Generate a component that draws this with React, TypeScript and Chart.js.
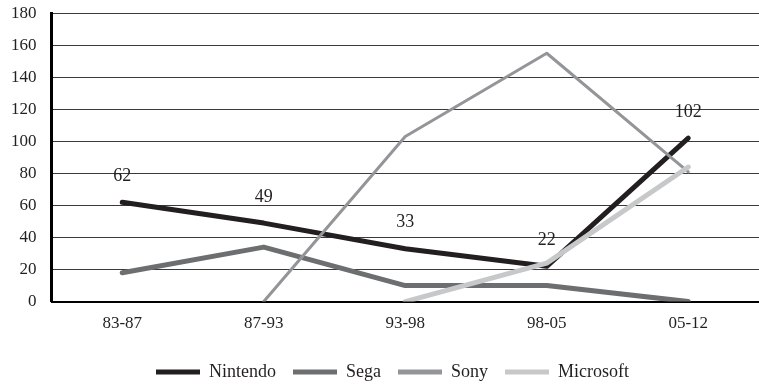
import React, { useEffect, useRef } from "react";
import { Chart, registerables } from "chart.js";

Chart.register(...registerables);

const categories = ["83-87", "87-93", "93-98", "98-05", "05-12"];
const nintendo = [62, 49, 33, 22, 102];
const sega = [18, 34, 10, 10, 0];
const sony = [null, 0, 103, 155, 81];
const microsoft = [null, null, 0, 24, 84];
const yTicks = [0, 20, 40, 60, 80, 100, 120, 140, 160, 180];

const FONT = "'Liberation Serif', 'Times New Roman', serif";

const labelPlugin = {
  id: "nintendoLabels",
  afterLayout(chart: any) {
    if (chart.legend) chart.legend.left = chart.legend.left + 30;
  },
  afterDatasetsDraw(chart: any) {
    const ctx = chart.ctx;
    const meta = chart.getDatasetMeta(0);
    ctx.save();
    ctx.font = `18px ${FONT}`;
    ctx.fillStyle = "#231f20";
    ctx.textAlign = "center";
    ctx.textBaseline = "middle";
    meta.data.forEach((pt: any, i: number) => {
      ctx.fillText(String(nintendo[i]), pt.x, pt.y - 26);
    });
    ctx.restore();
  },
};

export default function App() {
  const ref = useRef<HTMLCanvasElement>(null);
  useEffect(() => {
    const colors = ["#231f20", "#6d6e70", "#939598", "#c7c8ca"];
    const names = ["Nintendo", "Sega", "Sony", "Microsoft"];
    const chart = new Chart(ref.current!, {
      type: "line",
      data: {
        labels: categories,
        datasets: [
          { label: "Nintendo", data: nintendo, borderColor: colors[0], backgroundColor: colors[0], borderWidth: 5, order: 3 },
          { label: "Sega", data: sega, borderColor: colors[1], backgroundColor: colors[1], borderWidth: 5, order: 2 },
          { label: "Sony", data: sony, borderColor: colors[2], backgroundColor: colors[2], borderWidth: 3, order: 1 },
          { label: "Microsoft", data: microsoft, borderColor: colors[3], backgroundColor: colors[3], borderWidth: 5, order: 0 },
        ].map((d) => ({ ...d, pointRadius: 0, borderCapStyle: "round", borderJoinStyle: "round", tension: 0, spanGaps: false })) as any,
      },
      options: {
        animation: false,
        responsive: false,
        maintainAspectRatio: false,
        layout: { padding: { top: 0, right: 0, left: 0, bottom: -6 } },
        plugins: {
          tooltip: { enabled: false },
          legend: {
            position: "bottom",
            labels: {
              font: { family: FONT, size: 18 },
              color: "#231f20",
              boxWidth: 44,
              boxHeight: 5,
              useBorderRadius: true,
              borderRadius: 2.5,
              padding: 17,
              generateLabels: () =>
                names.map((n, i) => ({
                  text: n,
                  fillStyle: colors[i],
                  strokeStyle: colors[i],
                  lineWidth: 0,
                  hidden: false,
                  datasetIndex: i,
                  fontColor: "#231f20",
                })),
            },
          },
        },
        scales: {
          x: {
            offset: true,
            grid: { display: false, drawTicks: false },
            border: { display: true, color: "#000", width: 2 },
            ticks: { font: { family: FONT, size: 17 }, color: "#231f20", padding: 12 },
          },
          y: {
            min: 0,
            max: 180,
            afterBuildTicks: (axis: any) => {
              axis.ticks = yTicks.map((v) => ({ value: v }));
            },
            grid: { color: "#3a3a3a", lineWidth: 1, drawTicks: false },
            border: { display: true, color: "#000", width: 3 },
            ticks: { font: { family: FONT, size: 17 }, color: "#231f20", padding: 15 },
          },
        },
      },
      plugins: [labelPlugin],
    });
    return () => chart.destroy();
  }, []);
  return (
    <div style={{ position: "fixed", left: 0, top: 0, width: 759, height: 385, background: "#fff", overflow: "hidden" }}>
      <canvas
        ref={ref}
        width={763}
        height={397}
        style={{ position: "absolute", left: -4, top: -12, width: 763, height: 397 }}
      />
    </div>
  );
}
